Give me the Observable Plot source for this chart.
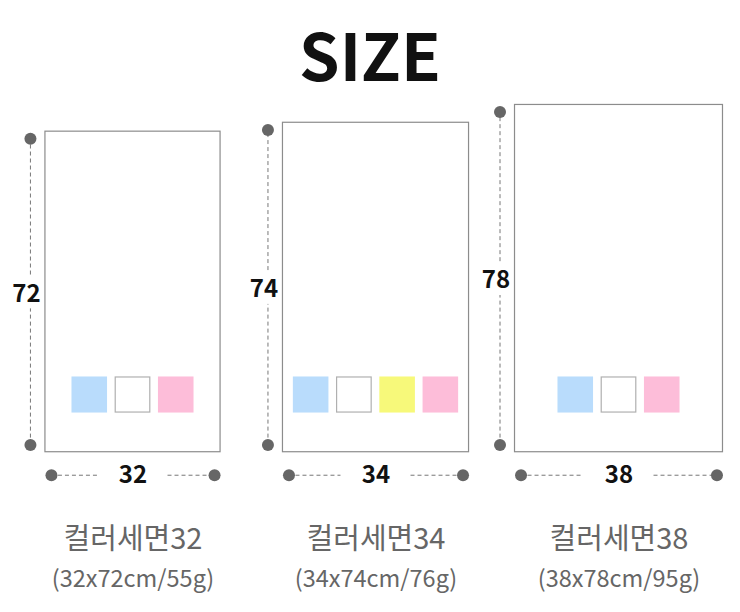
<!DOCTYPE html>
<html>
<head>
<meta charset="utf-8">
<script src="https://cdn.jsdelivr.net/npm/d3@7"></script>
<script src="https://cdn.jsdelivr.net/npm/@observablehq/plot@0.6"></script>
<style>
  body { margin: 0; background: #fff; }
  #title { height: 100px; box-sizing: border-box; padding-top: 21px; text-align: center;
           font: 700 65px/1 "Noto Sans CJK KR", "Noto Sans", sans-serif; color: #111; }
</style>
</head>
<body>
<div id="title">SIZE</div>
<div id="chart"></div>
<script>
// 제품 데이터 (cm, g)
const models = ["컬러세면32", "컬러세면34", "컬러세면38"];
const widthsCm = [32, 34, 38];
const lengthsCm = [72, 74, 78];
const weightsG = [55, 76, 95];
const colorways = [
  ["sky", "white", "pink"],
  ["sky", "white", "yellow", "pink"],
  ["sky", "white", "pink"]
];

const towels = models.map((m, i) => ({model: m, w: widthsCm[i], h: lengthsCm[i], g: weightsG[i]}));
const swatches = towels.flatMap((t, i) =>
  colorways[i].map((c, j) => ({model: t.model, color: c, i: j, n: colorways[i].length})));

// layout (cm)
const pitch = 7.9, side = 6.5, swY1 = 8.8, swY2 = 16.9;
const vInset = 1.6, vGap = 3.8, hInset = 1.1, hGap = 6.4;
const swX = d => (d.i - (d.n - 1) / 2) * pitch;

const vSegs = towels.flatMap(t => [
  {model: t.model, x: -t.w / 2, y1: vInset, y2: t.h / 2 - vGap},
  {model: t.model, x: -t.w / 2, y1: t.h / 2 + vGap, y2: t.h - vInset}
]);
const vDots = towels.flatMap(t => [
  {model: t.model, x: -t.w / 2, y: vInset},
  {model: t.model, x: -t.w / 2, y: t.h - vInset}
]);
const hSegs = towels.flatMap(t => [
  {model: t.model, x1: -t.w / 2 + hInset, x2: -hGap},
  {model: t.model, x1: hGap, x2: t.w / 2 - hInset}
]);
const hDots = towels.flatMap(t => [
  {model: t.model, x: -t.w / 2 + hInset},
  {model: t.model, x: t.w / 2 - hInset}
]);

const font = "'Noto Sans CJK KR', 'Noto Sans', sans-serif";

const chart = Plot.plot({
  width: 740,
  height: 512,
  marginLeft: 10,
  marginRight: 0,
  marginTop: 0,
  marginBottom: 0,
  style: {fontFamily: font, background: "white"},
  fx: {domain: models, axis: null, padding: 0},
  x: {domain: [-22.2, 22.2], axis: null},
  y: {domain: [-36, 79], axis: null},
  color: {domain: ["sky", "white", "yellow", "pink"], range: ["#b9dcfc", "#ffffff", "#f7f97a", "#fdbdd9"]},
  marks: [
    // 타월
    Plot.rect(towels, {fx: "model", x1: d => -d.w / 2, x2: d => d.w / 2, y1: 0, y2: "h",
      fill: "white", stroke: "#8c8c8c", strokeWidth: 1.2}),
    // 컬러 칩
    Plot.rect(swatches, {fx: "model", x1: d => swX(d) - side / 2, x2: d => swX(d) + side / 2,
      y1: swY1, y2: swY2, fill: "color"}),
    Plot.rect(swatches.filter(d => d.color === "white"), {fx: "model",
      x1: d => swX(d) - side / 2, x2: d => swX(d) + side / 2, y1: swY1, y2: swY2,
      fill: "none", stroke: "#b0b0b0", strokeWidth: 1.2, inset: 0.5}),
    // 세로 치수
    Plot.ruleX(vSegs, {fx: "model", x: "x", y1: "y1", y2: "y2", dx: -15,
      stroke: "#777", strokeDasharray: "4,3"}),
    Plot.dot(vDots, {fx: "model", x: "x", y: "y", dx: -15, r: 6, fill: "#666", stroke: "none"}),
    Plot.text(towels, {fx: "model", x: d => -d.w / 2, y: d => d.h / 2, dx: -19, dy: 2,
      text: d => String(d.h), fontSize: 24, fontWeight: 700, fill: "#111"}),
    // 가로 치수
    Plot.ruleY(hSegs, {fx: "model", y: 0, x1: "x1", x2: "x2", dy: 23,
      stroke: "#777", strokeDasharray: "4,3"}),
    Plot.dot(hDots, {fx: "model", x: "x", y: 0, dy: 23, r: 6, fill: "#666", stroke: "none"}),
    Plot.text(towels, {fx: "model", x: 0, y: 0, dy: 23,
      text: d => String(d.w), fontSize: 24, fontWeight: 700, fill: "#111"}),
    // 제품명
    Plot.text(towels, {fx: "model", x: 0, y: -19.6, text: "model",
      fontSize: 29, fill: "#666"}),
    Plot.text(towels, {fx: "model", x: 0, y: -28.5, text: d => `(${d.w}x${d.h}cm/${d.g}g)`,
      fontSize: 23.5, fill: "#666"})
  ]
});
document.getElementById("chart").append(chart);
</script>
</body>
</html>
